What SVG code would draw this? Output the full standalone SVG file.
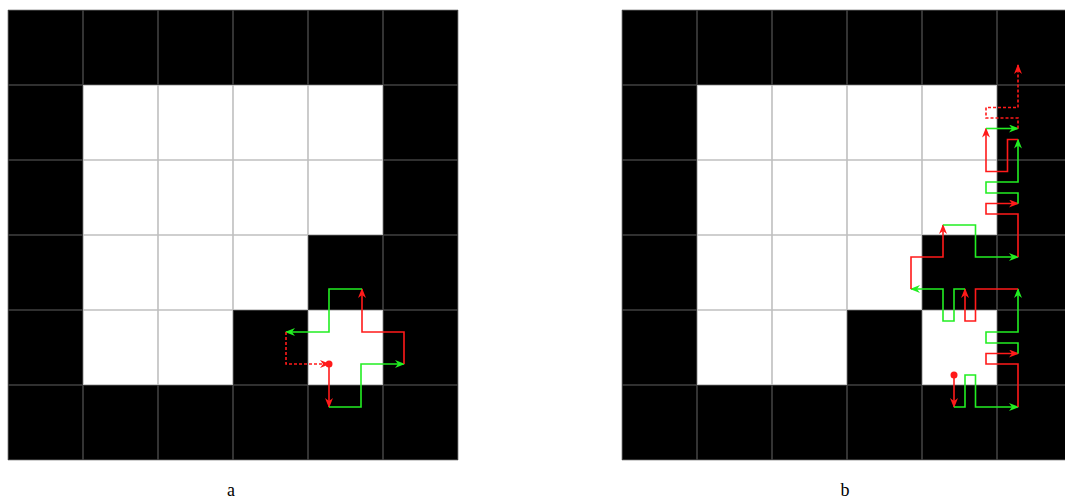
<svg xmlns="http://www.w3.org/2000/svg" width="1065" height="501" viewBox="0 0 1065 501">
<style>
.blk{fill:#000}
.wht{fill:#fff}
.grid{stroke:#808080;stroke-opacity:0.5;stroke-width:1.6;fill:none}
.r{stroke:#ff1a1a;stroke-width:1.6;fill:none}
.g{stroke:#22ee22;stroke-width:1.6;fill:none}
.d{stroke-dasharray:3,2}
.lbl{font-family:"Liberation Serif",serif;font-size:18px;fill:#000;text-anchor:middle}
</style>
<defs>
<marker id="ar" viewBox="0 0 10 8" refX="9" refY="4" markerWidth="10" markerHeight="8" markerUnits="userSpaceOnUse" orient="auto"><path d="M0,0 L10,4 L0,8 L3,4 Z" fill="#ff1a1a"/></marker>
<marker id="ag" viewBox="0 0 10 8" refX="9" refY="4" markerWidth="10" markerHeight="8" markerUnits="userSpaceOnUse" orient="auto"><path d="M0,0 L10,4 L0,8 L3,4 Z" fill="#22ee22"/></marker>
<pattern id="gp" x="0" y="0" width="75" height="75" patternUnits="userSpaceOnUse"><path d="M0,0 H75 M0,0 V75" stroke="#808080" stroke-opacity="0.5" stroke-width="1.6" fill="none"/></pattern>
</defs>

<g id="gridA">
<rect class="blk" x="8" y="10" width="450" height="450"/>
<rect class="wht" x="83" y="85" width="300" height="150"/>
<rect class="wht" x="83" y="235" width="225" height="75"/>
<rect class="wht" x="83" y="310" width="150" height="75"/>
<rect class="wht" x="308" y="310" width="75" height="75"/>
<path class="grid" d="M8,10 V460 M83,10 V460 M158,10 V460 M233,10 V460 M308,10 V460 M383,10 V460 M458,10 V460 M8,10 H458 M8,85 H458 M8,160 H458 M8,235 H458 M8,310 H458 M8,385 H458 M8,460 H458"/>
</g>

<g id="gridB">
<rect class="blk" x="622" y="10" width="450" height="450"/>
<rect class="wht" x="697" y="85" width="300" height="150"/>
<rect class="wht" x="697" y="235" width="225" height="75"/>
<rect class="wht" x="697" y="310" width="150" height="75"/>
<rect class="wht" x="922" y="310" width="75" height="75"/>
<path class="grid" d="M622,10 V460 M697,10 V460 M772,10 V460 M847,10 V460 M922,10 V460 M997,10 V460 M622,10 H1072 M622,85 H1072 M622,160 H1072 M622,235 H1072 M622,310 H1072 M622,385 H1072 M622,460 H1072"/>
</g>

<g id="connectors">
<!-- a -->
<path class="r" d="M329,364 V407" marker-end="url(#ar)"/>
<path class="g" d="M329,407 H361 V364 H404" marker-end="url(#ag)"/>
<path class="r" d="M404,364 V332 H362 V289" marker-end="url(#ar)"/>
<path class="g" d="M362,289 H329 V332 H286" marker-end="url(#ag)"/>
<path class="r d" d="M286,332 V364 H329" marker-end="url(#ar)"/>
<circle cx="329" cy="364" r="3.5" fill="#ff1a1a"/>

<!-- b -->
<path class="r" d="M954,375 V407" marker-end="url(#ar)"/>
<path class="g" d="M954,407 H965 V375 H975.5 V407 H1018" marker-end="url(#ag)"/>
<path class="r" d="M1018,407 V364 H986 V353.5 H1018" marker-end="url(#ar)"/>
<path class="g" d="M1018,353.5 V343 H986 V332 H1018 V289" marker-end="url(#ag)"/>
<path class="r" d="M1018,289 H975.5 V321 H965 V289" marker-end="url(#ar)"/>
<path class="g" d="M965,289 H954 V321 H943 V289 H911" marker-end="url(#ag)"/>
<path class="r" d="M911,289 V257 H943 V225" marker-end="url(#ar)"/>
<path class="g" d="M943,225 H975.5 V257 H1018" marker-end="url(#ag)"/>
<path class="r" d="M1018,257 V214 H986 V203.5 H1018" marker-end="url(#ar)"/>
<path class="g" d="M1018,203.5 V193 H986 V182 H1018 V139.5" marker-end="url(#ag)"/>
<path class="r" d="M1018,139.5 H1007.5 V171.5 H986 V128.5" marker-end="url(#ar)"/>
<path class="g" d="M986,128.5 H1018" marker-end="url(#ag)"/>
<path class="r d" d="M1018,128.5 V118 H986 V107.5 H1018 V65" marker-end="url(#ar)"/>
<circle cx="954" cy="375" r="3.5" fill="#ff1a1a"/>
</g>

<g id="labels">
<text class="lbl" x="231" y="496">a</text>
<text class="lbl" x="845" y="496">b</text>
</g>
</svg>
